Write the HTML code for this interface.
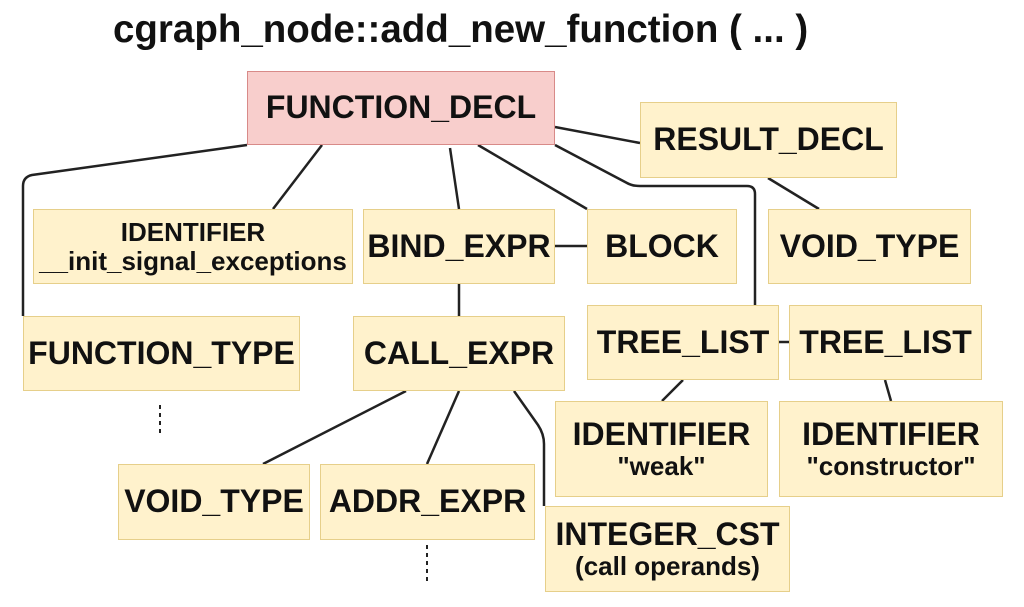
<!DOCTYPE html>
<html><head><style>
body{margin:0;width:1024px;height:607px;background:#fff;position:relative;overflow:hidden;font-family:"Liberation Sans",sans-serif;font-weight:bold;color:#111}
.b{position:absolute;box-sizing:border-box;background:#fff2cc;border:1.5px solid #e6cf8a;display:flex;flex-direction:column;align-items:center;justify-content:center;font-size:32px;text-align:center;line-height:1.1;white-space:nowrap}
.s{font-size:26px}
h1{position:absolute;left:113px;top:8px;margin:0;font-size:38.5px;white-space:nowrap}
svg{position:absolute;left:0;top:0}
</style></head><body>
<h1>cgraph_node::add_new_function ( ... )</h1>
<svg width="1024" height="607" fill="none" stroke="#222" stroke-width="2.5">
<path d="M247 145 L32 175 Q23 177 23 186 L23 316"/>
<path d="M322 145 L273 209"/>
<path d="M450 148 L459 209"/>
<path d="M478 145 L587 209"/>
<path d="M555 127 L640 143"/>
<path d="M555 145 L627 183 Q632 186 640 186 L747 186 Q755 186 755 194 L755 305"/>
<path d="M768 178 L819 209"/>
<path d="M555 246 L587 246"/>
<path d="M459 284 L459 316"/>
<path d="M779 342 L789 342"/>
<path d="M683 380 L662 401"/>
<path d="M885 380 L891 401"/>
<path d="M406 391 L263 464"/>
<path d="M459 391 L427 464"/>
<path d="M514 391 L538 425 Q544 434 544 444 L544 506"/>
<path d="M160 405 L160 435" stroke-dasharray="4 4" stroke-width="2"/>
<path d="M427 545 L427 582" stroke-dasharray="4 4" stroke-width="2"/>
</svg>
<div class="b" style="left:247px;top:71px;width:308px;height:74px;background:#f8cecc;border-color:#d88a88">FUNCTION_DECL</div>
<div class="b" style="left:640px;top:102px;width:257px;height:76px">RESULT_DECL</div>
<div class="b s" style="left:33px;top:209px;width:320px;height:75px"><div>IDENTIFIER</div><div>__init_signal_exceptions</div></div>
<div class="b" style="left:363px;top:209px;width:192px;height:75px">BIND_EXPR</div>
<div class="b" style="left:587px;top:209px;width:150px;height:75px">BLOCK</div>
<div class="b" style="left:768px;top:209px;width:203px;height:75px">VOID_TYPE</div>
<div class="b" style="left:23px;top:316px;width:277px;height:75px">FUNCTION_TYPE</div>
<div class="b" style="left:353px;top:316px;width:212px;height:75px">CALL_EXPR</div>
<div class="b" style="left:587px;top:305px;width:192px;height:75px">TREE_LIST</div>
<div class="b" style="left:789px;top:305px;width:193px;height:75px">TREE_LIST</div>
<div class="b" style="left:555px;top:401px;width:213px;height:96px"><div>IDENTIFIER</div><div class="s">"weak"</div></div>
<div class="b" style="left:779px;top:401px;width:224px;height:96px"><div>IDENTIFIER</div><div class="s">"constructor"</div></div>
<div class="b" style="left:118px;top:464px;width:192px;height:76px">VOID_TYPE</div>
<div class="b" style="left:320px;top:464px;width:215px;height:76px">ADDR_EXPR</div>
<div class="b" style="left:545px;top:506px;width:245px;height:86px"><div>INTEGER_CST</div><div class="s">(call operands)</div></div>
</body></html>
